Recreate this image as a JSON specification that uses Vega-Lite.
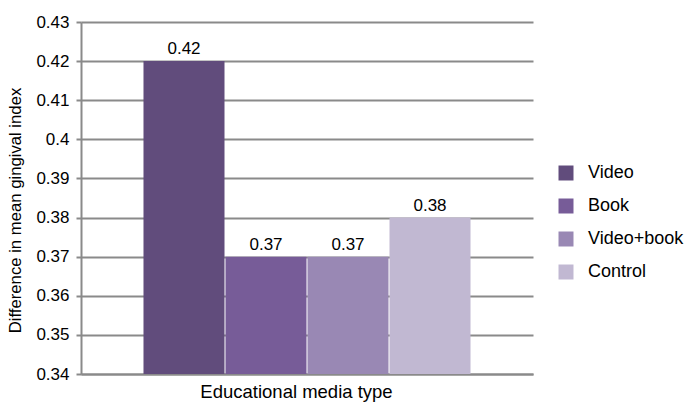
{
  "$schema": "https://vega.github.io/schema/vega-lite/v6.json",
  "width": 452,
  "height": 352,
  "autosize": {"type": "none"},
  "padding": {"left": 81, "top": 22, "right": 152, "bottom": 30},
  "background": "white",
  "data": {"values": [
    {"type": "Video", "value": 0.42, "label": "0.42"},
    {"type": "Book", "value": 0.37, "label": "0.37"},
    {"type": "Video+book", "value": 0.37, "label": "0.37"},
    {"type": "Control", "value": 0.38, "label": "0.38"}
  ]},
  "config": {
    "font": "Liberation Sans",
    "view": {"stroke": null},
    "axis": {"labelFont": "Liberation Sans", "titleFont": "Liberation Sans", "titleFontWeight": "normal", "labelColor": "#000", "titleColor": "#000"}
  },
  "encoding": {
    "x": {
      "field": "type", "type": "nominal", "sort": ["Video", "Book", "Video+book", "Control"],
      "scale": {"paddingInner": 0.012, "paddingOuter": 0.762},
      "axis": {"labels": false, "ticks": false, "domain": true, "domainColor": "#8a8a8a", "domainWidth": 2, "title": "Educational media type", "titleFontSize": 18.5, "titlePadding": 8, "titleX": 215, "titleAlign": "center"}
    },
    "y": {
      "field": "value", "type": "quantitative",
      "scale": {"domain": [0.34, 0.43], "nice": false, "zero": false},
      "axis": {"values": [0.34, 0.35, 0.36, 0.37, 0.38, 0.39, 0.4, 0.41, 0.42, 0.43], "labelOverlap": false, "format": "~g", "labelFontSize": 17, "tickSize": 5, "tickColor": "#8a8a8a", "tickWidth": 2, "labelPadding": 7, "domainColor": "#8a8a8a", "domainWidth": 2, "grid": true, "gridColor": "#8a8a8a", "gridWidth": 2, "title": "Difference in mean gingival index", "titleFontSize": 16.7, "titlePadding": 11, "titleY": 188}
    }
  },
  "layer": [
    {
      "mark": {"type": "bar"},
      "encoding": {
        "y2": {"datum": 0.34},
        "color": {
          "field": "type", "type": "nominal", "sort": ["Video", "Book", "Video+book", "Control"],
          "scale": {"domain": ["Video", "Book", "Video+book", "Control"], "range": ["#614c7c", "#775c98", "#9988b4", "#c1b8d2"]},
          "legend": {"title": null, "orient": "none", "legendX": 476, "legendY": 142, "symbolType": "square", "symbolSize": 225, "symbolStrokeWidth": 0, "labelFontSize": 18, "labelFont": "Liberation Sans", "labelColor": "#000", "labelOffset": 13, "rowPadding": 15, "padding": 0}
        }
      }
    },
    {
      "mark": {"type": "text", "baseline": "bottom", "dy": -3, "fontSize": 17, "color": "#000", "font": "Liberation Sans"},
      "encoding": {
        "text": {"field": "label"}
      }
    }
  ]
}
